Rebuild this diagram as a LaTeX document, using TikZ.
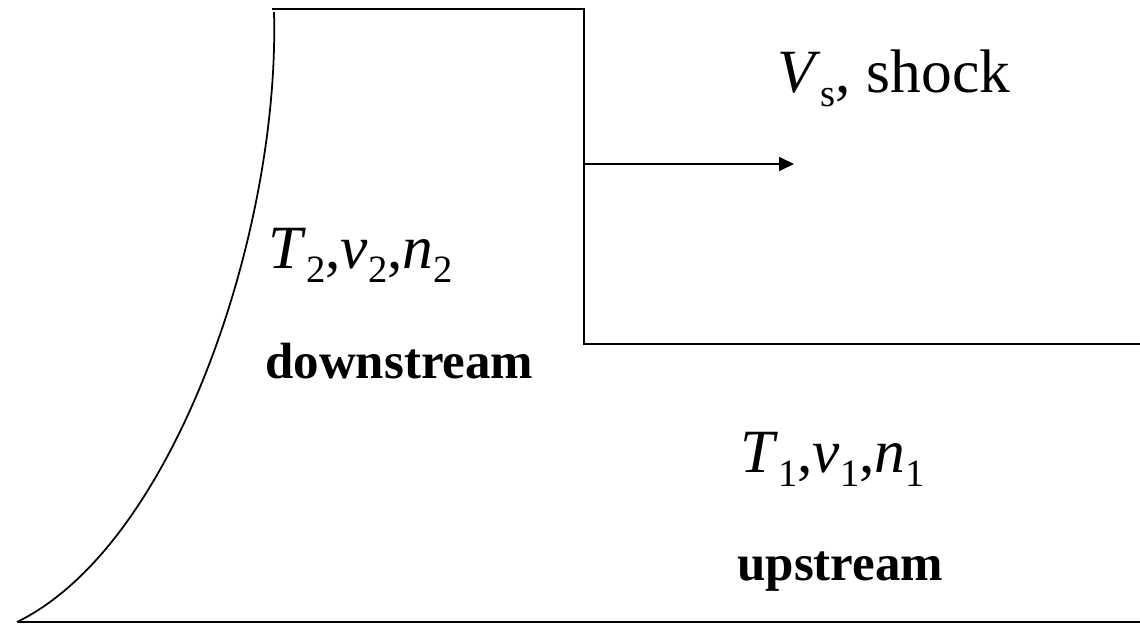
\documentclass[tikz,border=0pt]{standalone}
\usepackage{fontspec}
\setmainfont{Liberation Serif}
\usetikzlibrary{arrows.meta, positioning}
\newcommand{\lowidx}[1]{{\fontsize{22}{22}\selectfont\raisebox{-0.38em}{#1}}}
\tikzset{
  wall/.style={black, line width=1pt},
  floorline/.style={black, line width=1.5pt},
  varlbl/.style={inner sep=0pt, anchor=base west, font=\fontsize{35}{35}\selectfont},
  zonelbl/.style={inner sep=0pt, anchor=base west, font=\fontsize{29}{29}\selectfont\bfseries}
}

\begin{document}
\begin{tikzpicture}[x=0.02cm, y=-0.02cm]
  \useasboundingbox (0,0) rectangle (1140,626);
  % corners of the profile
  \coordinate (foot) at (17,622);
  \coordinate (far) at (1140,622);
  \coordinate (crest) at (274,12);
  \coordinate (ltop) at (272,9);
  \coordinate (jtop) at (584,9);
  \coordinate (jbot) at (584,344);
  \coordinate (tail) at (1140,344);
  \coordinate (vstart) at (584,164);
  \coordinate (vtip) at (794,164);
  % profile
  \draw[floorline] (foot) -- (far);
  \draw[wall] (foot) .. controls (175,545) and (280,230) .. (crest);
  \draw[wall] (ltop) -- (jtop) -- (jbot) -- (tail);
  \draw[wall, -{Triangle[length=0.3cm, width=0.28cm]}] (vstart) -- (vtip);
  % labels
  \node[varlbl] (shocklbl) at (777,92) {\textit{V}\lowidx{s}, shock};
  \node[varlbl] (downvars) at (268,268) {\textit{T}\lowidx{2},\textit{v}\lowidx{2},\textit{n}\lowidx{2}};
  \node[zonelbl] (downlbl) at (265,378) {downstream};
  \node[varlbl] (upvars) at (740,472) {\textit{T}\lowidx{1},\textit{v}\lowidx{1},\textit{n}\lowidx{1}};
  \node[zonelbl] (uplbl) at (737,580) {upstream};
\end{tikzpicture}
\end{document}
